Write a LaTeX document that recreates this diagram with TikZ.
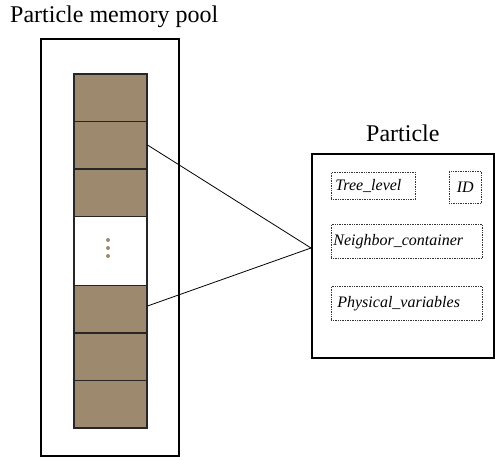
\documentclass[tikz,border=0pt]{standalone}
\usepackage{fontspec}
\setmainfont{Liberation Serif}
\definecolor{cellbrown}{RGB}{156,137,110}
\begin{document}
\begin{tikzpicture}[x=1pt,y=-1pt,
  cell/.style={draw=black!85,line width=1.5pt,fill=cellbrown,minimum width=73pt,minimum height=47.5pt,inner sep=0pt,anchor=north west},
  bigbox/.style={draw=black,line width=2pt},
  field/.style={draw=black!80,densely dotted,line width=0.7pt,inner sep=0pt,anchor=north west,font=\fontsize{16}{18}\selectfont\itshape},
  title/.style={font=\fontsize{24}{28}\selectfont},
  link/.style={draw=black,line width=0.8pt}]
\useasboundingbox (0,0) rectangle (495,460);
% titles
\node[title,anchor=west,inner sep=0pt] (pooltitle) at (10,17) {Particle memory pool};
\node[title,anchor=west,inner sep=0pt] (parttitle) at (366,133) {Particle};
% pool box
\node[bigbox,anchor=north west,minimum width=138pt,minimum height=417pt,inner sep=0pt] (pool) at (40,38) {};
% cells
\node[cell] (c1) at (73,73) {};
\node[cell] (c2) at (73,120.5) {};
\node[cell] (c3) at (73,168) {};
\node[cell,fill=white,minimum height=69pt] (c4) at (73,215.5) {};
\node[cell] (c5) at (73,284.5) {};
\node[cell] (c6) at (73,332) {};
\node[cell] (c7) at (73,379.5) {};
\foreach \yy [count=\i] in {240,248,256}
  \fill[cellbrown] (108,\yy) circle (2pt) coordinate (dot\i);
% particle box
\node[bigbox,anchor=north west,minimum width=182pt,minimum height=204pt,inner sep=0pt] (part) at (311,153) {};
\coordinate (joint) at (311,248);
% fields
\node[field,minimum width=84pt,minimum height=27pt,text width=84pt,align=left] (tree) at (331,172) {\hspace{4pt}Tree\_level};
\node[field,minimum width=32pt,minimum height=32pt,align=center] (id) at (449,171) {\makebox[32pt]{ID}};
\node[field,minimum width=151pt,minimum height=34pt,text width=151pt,align=left] (neigh) at (331,224) {\hspace{2pt}Neighbor\_container};
\node[field,minimum width=151pt,minimum height=34pt,text width=151pt,align=left] (phys) at (331,286) {\hspace{6pt}Physical\_variables};
% links
\draw[link] (c2.east) -- (joint);
\draw[link] ([yshift=3pt]c5.east) -- (joint);
\end{tikzpicture}
\end{document}
